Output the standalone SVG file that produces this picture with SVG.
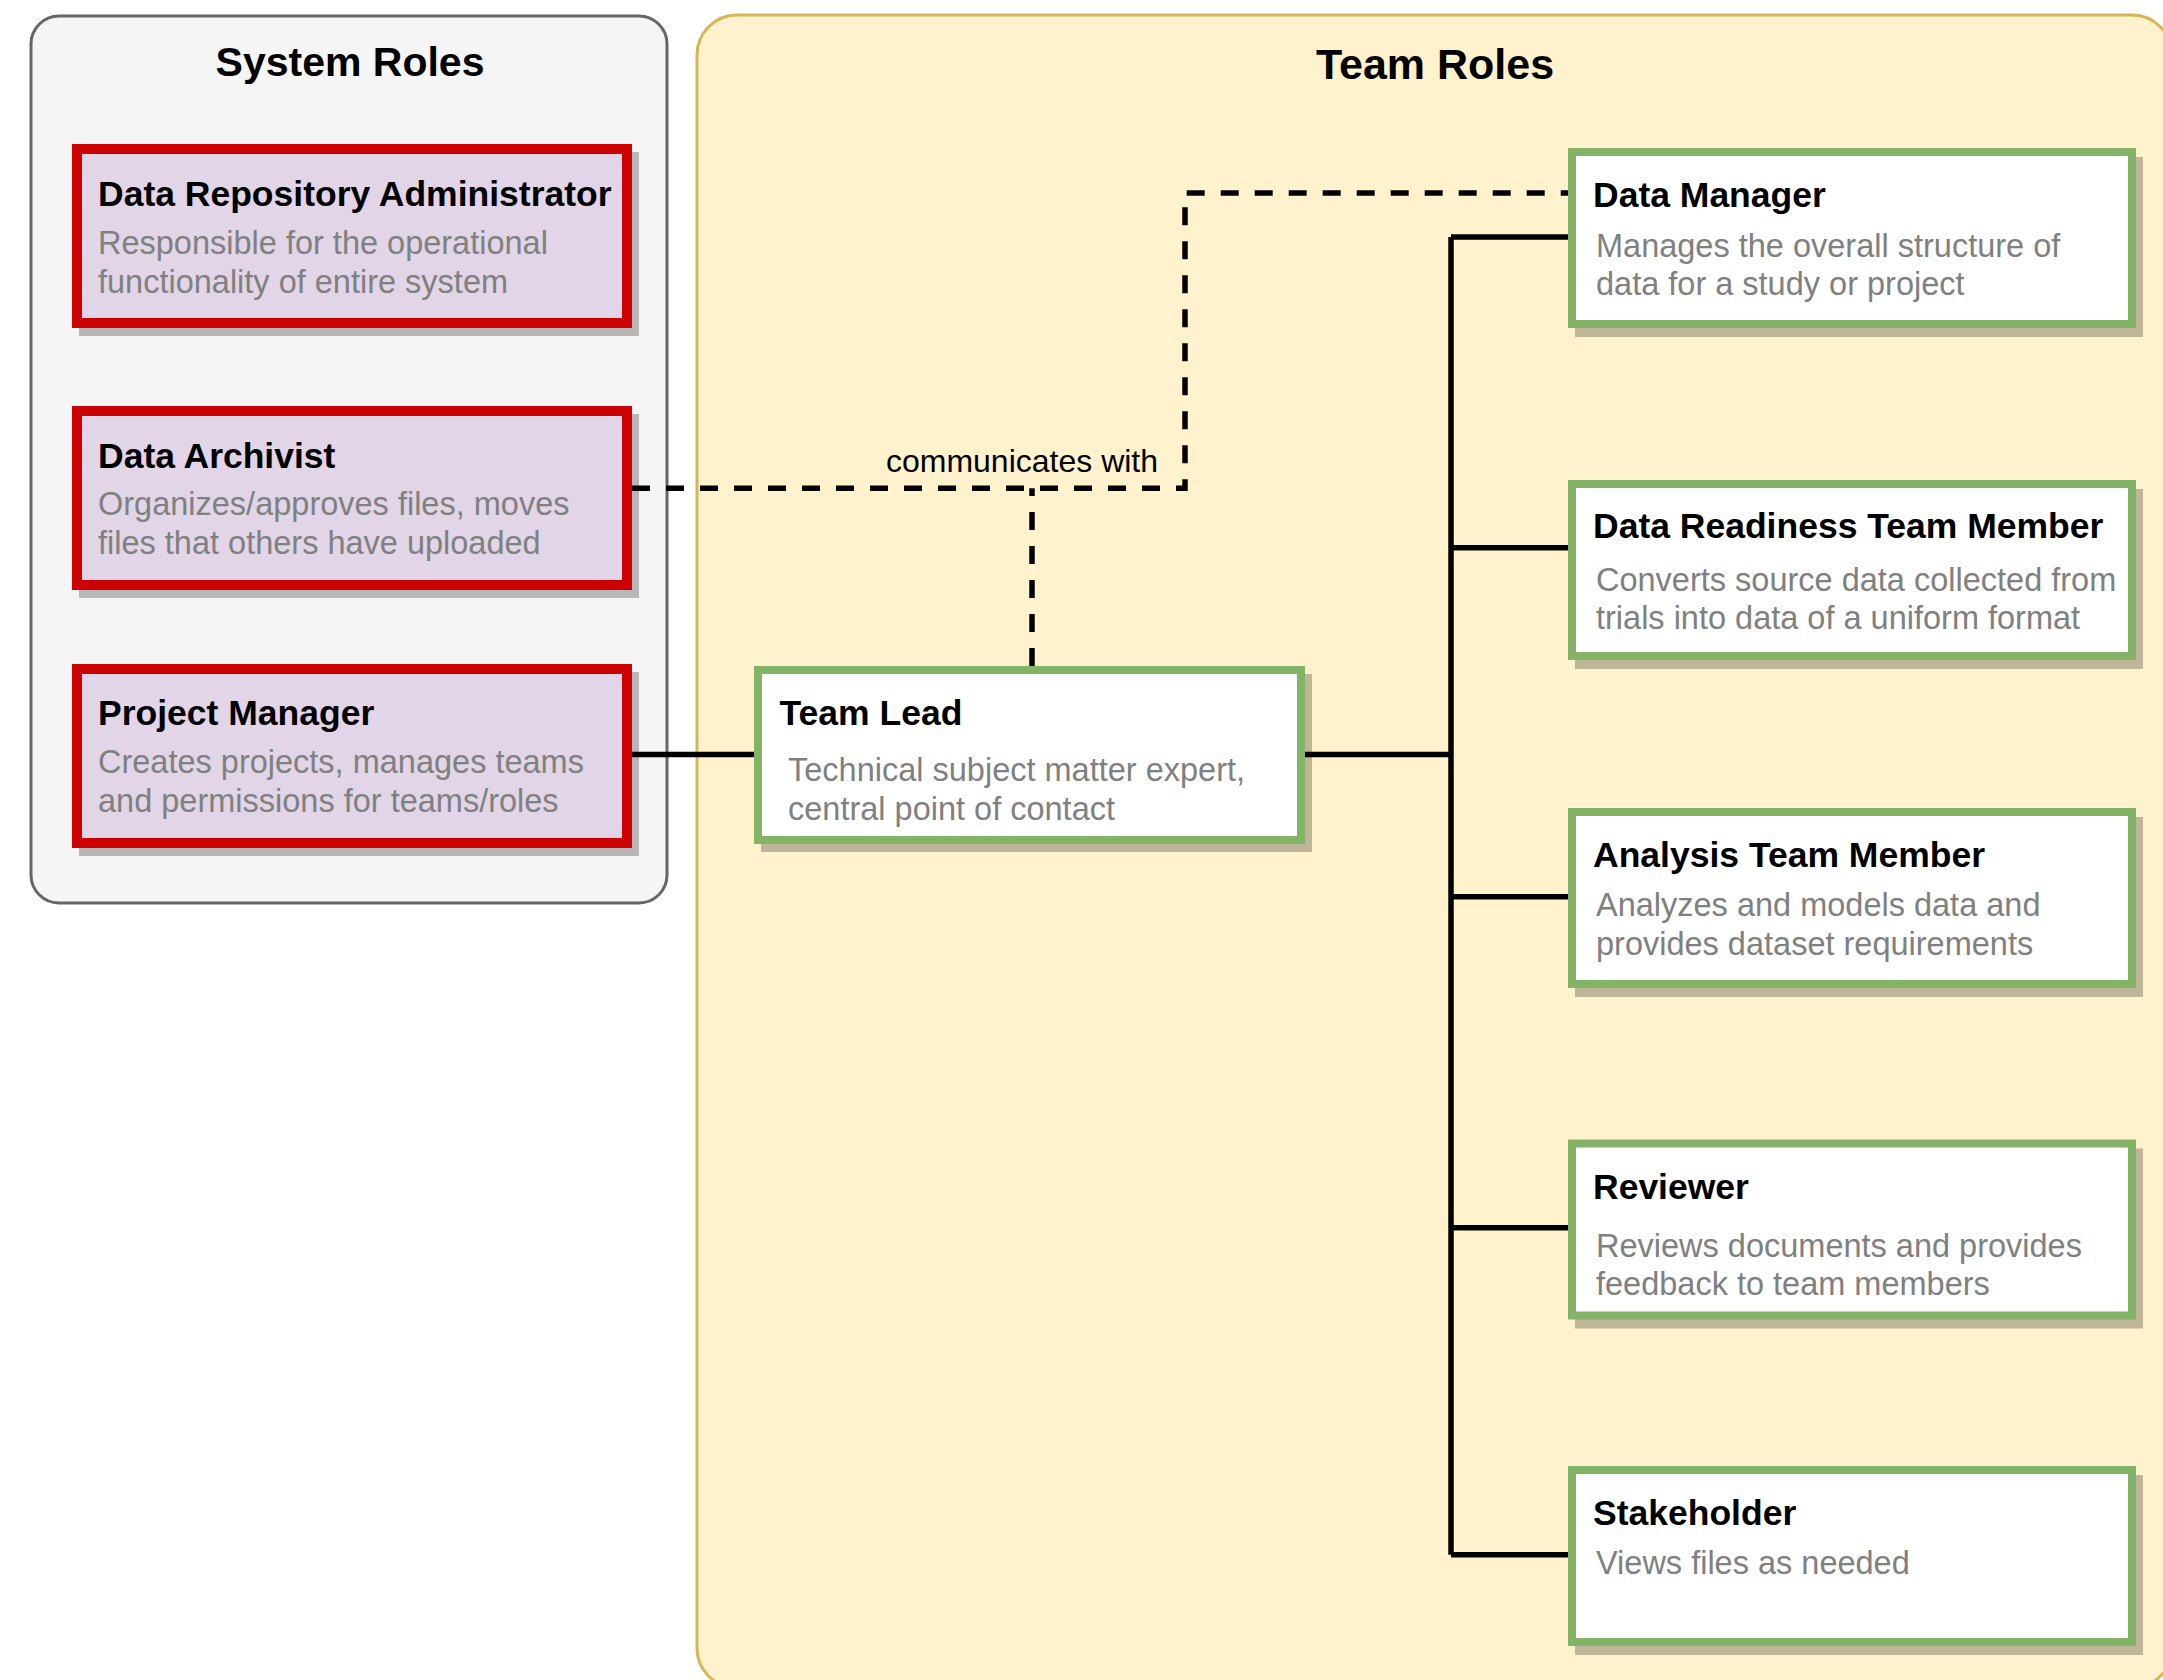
<svg xmlns="http://www.w3.org/2000/svg" width="2163" height="1680" viewBox="0 0 2163 1680">
  <style>
    .title { font-family: "Liberation Sans", Arial, sans-serif; font-weight: bold; font-size: 35.5px; fill: #000000; }
    .desc { font-family: "Liberation Sans", Arial, sans-serif; font-size: 32.5px; fill: #808080; }
    .heading { font-family: "Liberation Sans", Arial, sans-serif; font-weight: bold; fill: #000000; text-anchor: middle; }
    .label { font-family: "Liberation Sans", Arial, sans-serif; font-size: 32px; fill: #000000; text-anchor: middle; }
    .sys { fill: #e1d5e7; stroke: #cc0000; stroke-width: 10; }
    .team { fill: #ffffff; stroke: #82b366; stroke-width: 8; }
    .shadow { fill: #000000; fill-opacity: 0.25; }
    .solid { fill: none; stroke: #000000; stroke-width: 5.5; }
    .dashed { fill: none; stroke: #000000; stroke-width: 5.5; stroke-dasharray: 18 16; }
  </style>

  <!-- containers -->
  <g id="system-roles">
    <rect x="31" y="16" width="636" height="887" rx="28" ry="28" fill="#f5f5f5" stroke="#666666" stroke-width="3"/>
    <text class="heading" x="350" y="76" font-size="41">System Roles</text>
  </g>
  <g id="team-roles">
    <rect x="697" y="15" width="1475" height="1673" rx="40" ry="40" fill="#fff2cc" stroke="#d6b656" stroke-width="3"/>
    <text class="heading" x="1435" y="79" font-size="43">Team Roles</text>
  </g>

  <!-- connectors -->
  <g id="connectors">
    <path class="solid" d="M632 754.6 H754.5"/>
    <path class="solid" d="M1305 754.6 H1451"/>
    <path class="solid" d="M1451 237 V1554.7"/>
    <path class="solid" d="M1451 237 H1568"/>
    <path class="solid" d="M1451 547.7 H1568"/>
    <path class="solid" d="M1451 896.7 H1568"/>
    <path class="solid" d="M1451 1227.8 H1568"/>
    <path class="solid" d="M1451 1554.7 H1568"/>
    <path class="dashed" d="M632 488.3 H1185 V193 H1568"/>
    <path class="dashed" d="M1032 666 V488.3"/>
    <text class="label" x="1022" y="472">communicates with</text>
  </g>

  <!-- system role nodes -->
  <g id="data-repository-administrator">
    <rect class="shadow" x="79" y="152" width="560" height="184"/>
    <rect class="sys" x="77" y="149" width="550" height="174"/>
    <text class="title" x="98" y="206">Data Repository Administrator</text>
    <text class="desc" x="98" y="254">Responsible for the operational</text>
    <text class="desc" x="98" y="292.5">functionality of entire system</text>
  </g>
  <g id="data-archivist">
    <rect class="shadow" x="79" y="414" width="560" height="184"/>
    <rect class="sys" x="77" y="411" width="550" height="174"/>
    <text class="title" x="98" y="468">Data Archivist</text>
    <text class="desc" x="98" y="515">Organizes/approves files, moves</text>
    <text class="desc" x="98" y="553.5">files that others have uploaded</text>
  </g>
  <g id="project-manager">
    <rect class="shadow" x="79" y="672" width="560" height="184"/>
    <rect class="sys" x="77" y="669" width="550" height="174"/>
    <text class="title" x="98" y="725">Project Manager</text>
    <text class="desc" x="98" y="773">Creates projects, manages teams</text>
    <text class="desc" x="98" y="811.5">and permissions for teams/roles</text>
  </g>

  <!-- team role nodes -->
  <g id="team-lead">
    <rect class="shadow" x="761" y="674" width="551" height="178"/>
    <rect class="team" x="758" y="670" width="543" height="170"/>
    <text class="title" x="779.5" y="724.5">Team Lead</text>
    <text class="desc" x="788" y="781">Technical subject matter expert,</text>
    <text class="desc" x="788" y="819.5">central point of contact</text>
  </g>
  <g id="data-manager">
    <rect class="shadow" x="1575" y="157" width="568" height="180"/>
    <rect class="team" x="1572" y="152" width="560" height="172"/>
    <text class="title" x="1593" y="207">Data Manager</text>
    <text class="desc" x="1596" y="256.5">Manages the overall structure of</text>
    <text class="desc" x="1596" y="295">data for a study or project</text>
  </g>
  <g id="data-readiness-team-member">
    <rect class="shadow" x="1575" y="489" width="568" height="180"/>
    <rect class="team" x="1572" y="484" width="560" height="172"/>
    <text class="title" x="1593" y="538">Data Readiness Team Member</text>
    <text class="desc" x="1596" y="590.5">Converts source data collected from</text>
    <text class="desc" x="1596" y="629">trials into data of a uniform format</text>
  </g>
  <g id="analysis-team-member">
    <rect class="shadow" x="1575" y="817" width="568" height="180"/>
    <rect class="team" x="1572" y="812" width="560" height="172"/>
    <text class="title" x="1593" y="866.5">Analysis Team Member</text>
    <text class="desc" x="1596" y="916">Analyzes and models data and</text>
    <text class="desc" x="1596" y="954.6">provides dataset requirements</text>
  </g>
  <g id="reviewer">
    <rect class="shadow" x="1575" y="1148.5" width="568" height="180"/>
    <rect class="team" x="1572" y="1143.5" width="560" height="172"/>
    <text class="title" x="1593" y="1199">Reviewer</text>
    <text class="desc" x="1596" y="1256.7">Reviews documents and provides</text>
    <text class="desc" x="1596" y="1295">feedback to team members</text>
  </g>
  <g id="stakeholder">
    <rect class="shadow" x="1575" y="1475" width="568" height="180"/>
    <rect class="team" x="1572" y="1470" width="560" height="172"/>
    <text class="title" x="1593" y="1524.5">Stakeholder</text>
    <text class="desc" x="1596" y="1574">Views files as needed</text>
  </g>
</svg>
